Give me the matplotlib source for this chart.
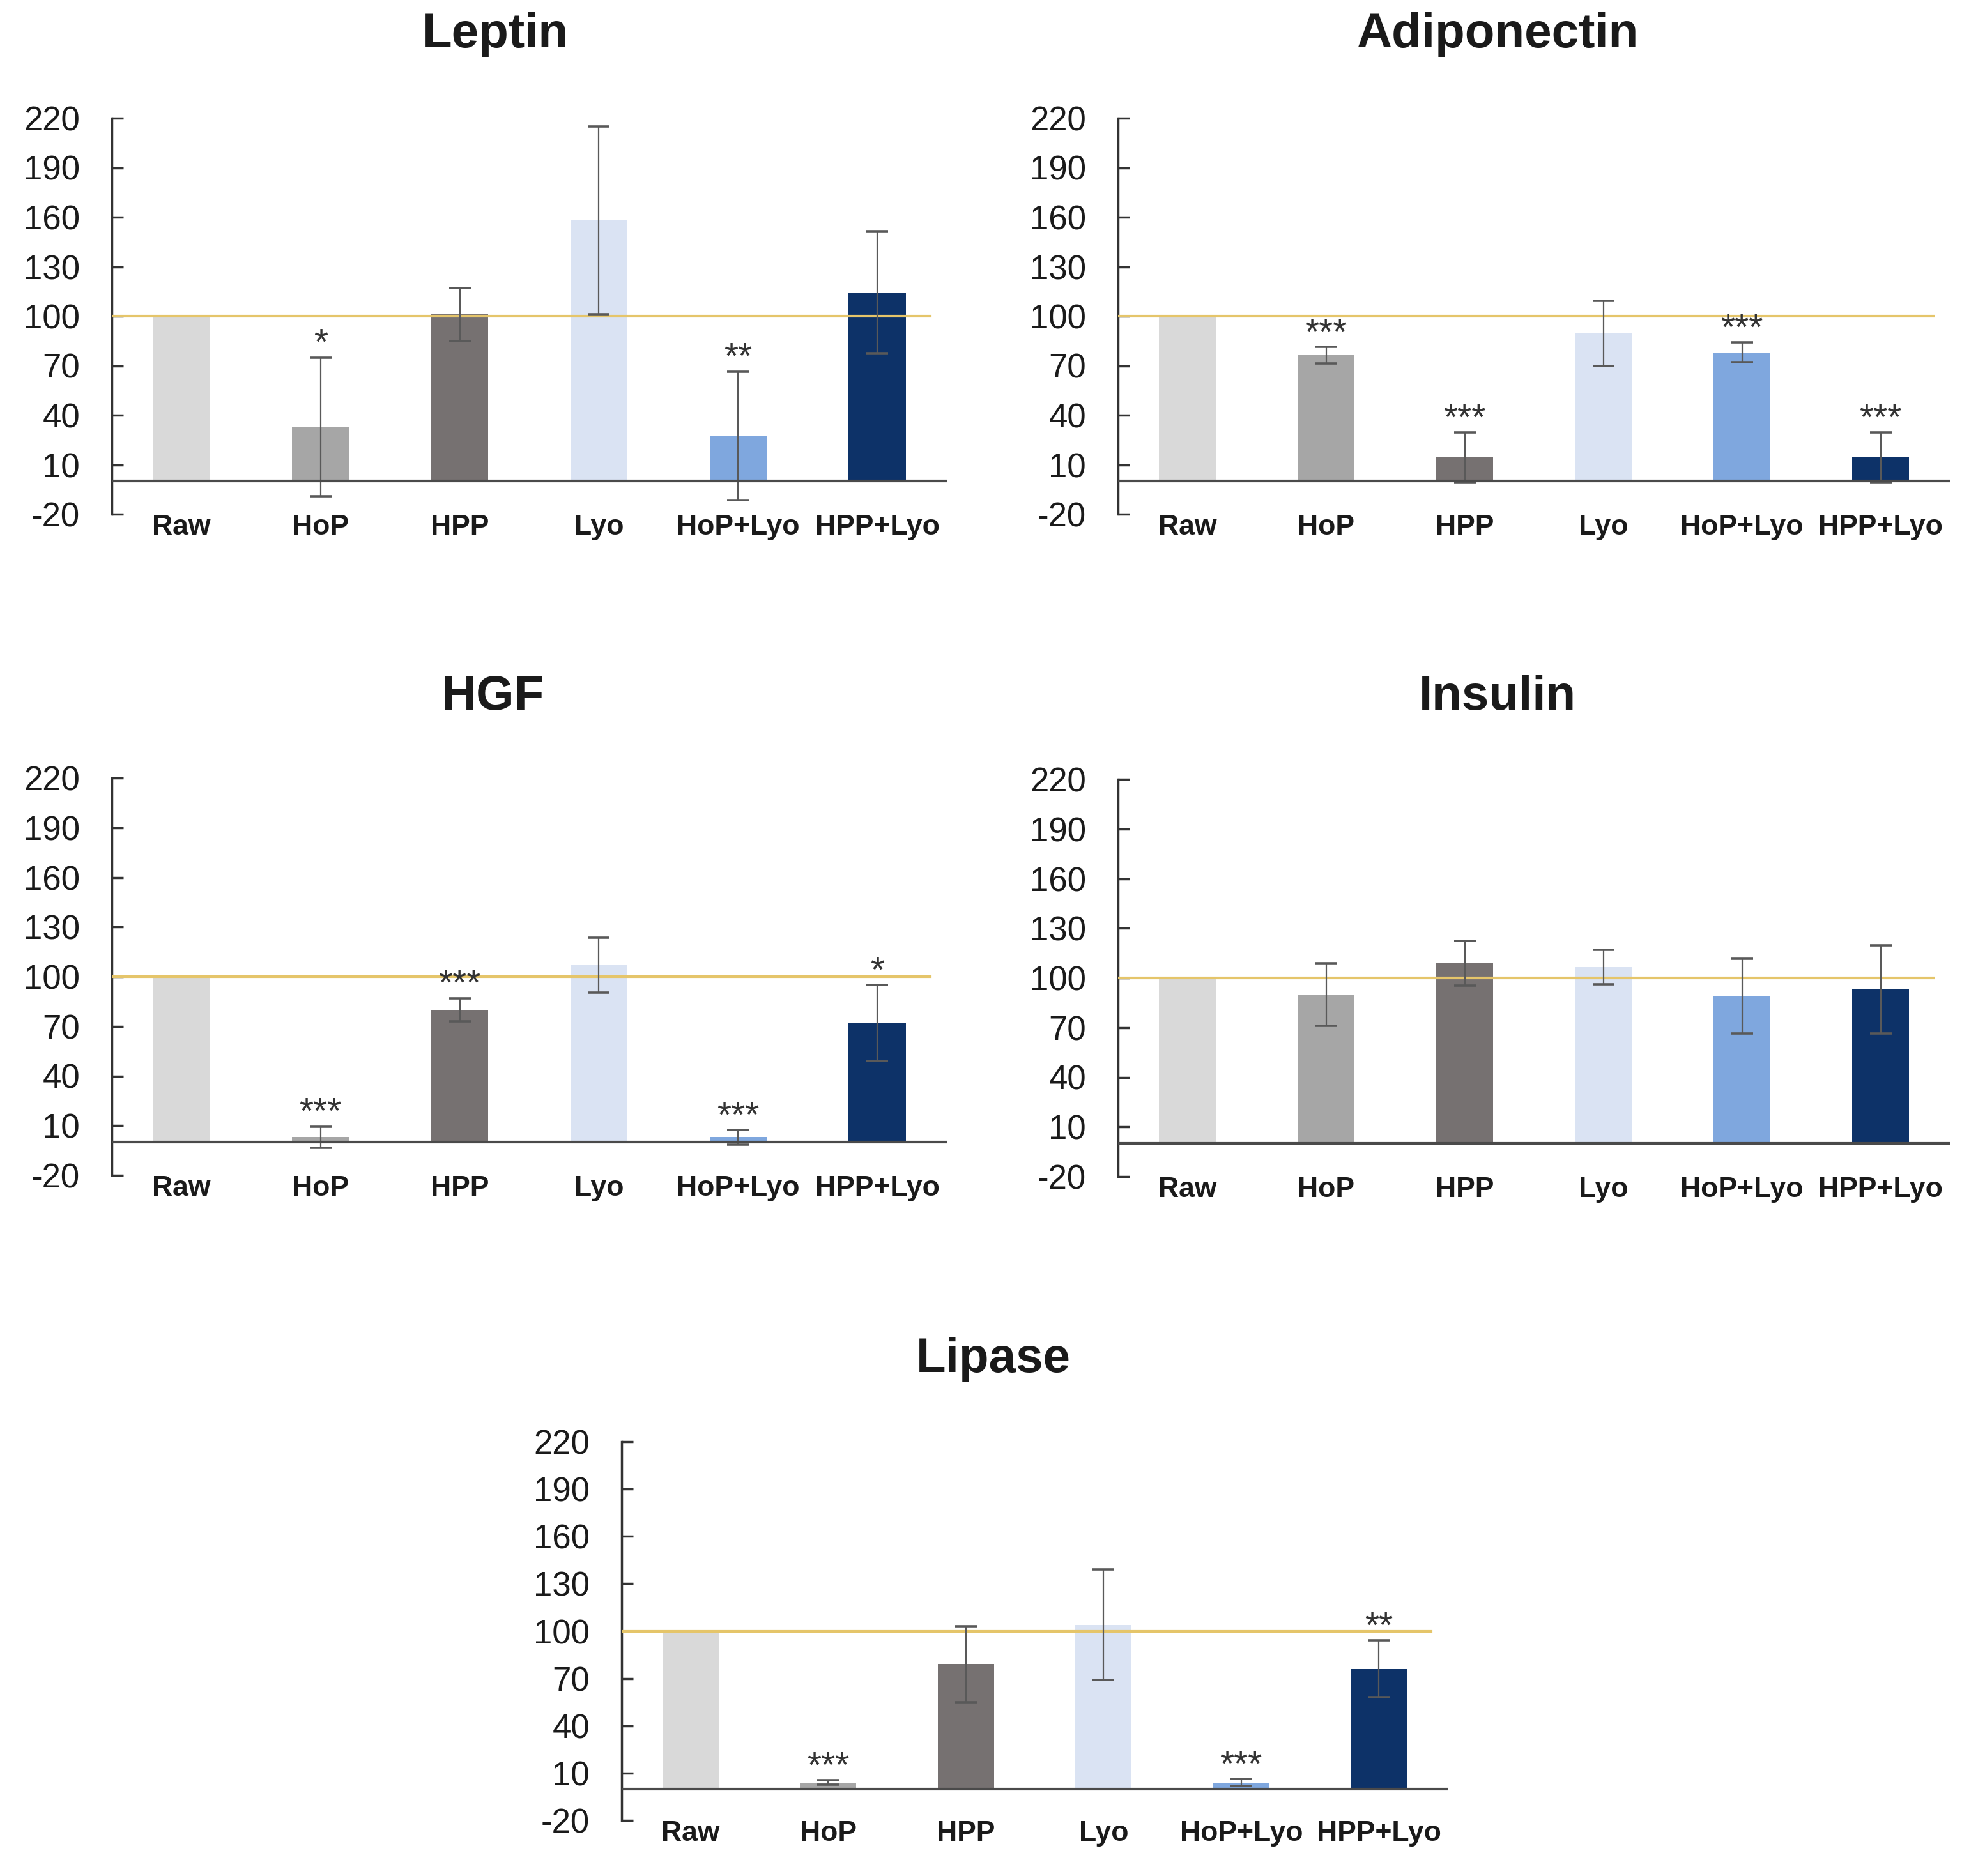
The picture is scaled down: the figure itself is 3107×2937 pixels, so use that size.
import numpy as np
import matplotlib
matplotlib.use("Agg")
import matplotlib.pyplot as plt

plt.rcParams.update(
    {
        "font.family": ["Liberation Sans", "DejaVu Sans"],
        "figure.facecolor": "white",
        "axes.unicode_minus": False,
    }
)

groups = ["Raw", "HoP", "HPP", "Lyo", "HoP+Lyo", "HPP+Lyo"]
bar_colors = ["#d9d9d9", "#a6a6a6", "#767171", "#dae3f3", "#7fa7de", "#0d3268"]
yticks = [-20, 10, 40, 70, 100, 130, 160, 190, 220]

# means (% of raw) and error (SD) for each panel
leptin_mean = [100, 33, 101, 158, 27.5, 114.5]
leptin_err = [0, 42, 16, 57, 39, 37]
leptin_sig = ["", "*", "", "", "**", ""]

adipo_mean = [100, 76.5, 14.5, 89.5, 78, 14.5]
adipo_err = [0, 5, 15, 19.7, 6, 15]
adipo_sig = ["", "***", "***", "", "***", "***"]

hgf_mean = [100, 3, 80, 107, 3, 72]
hgf_err = [0, 6.5, 7, 16.5, 4.5, 23]
hgf_sig = ["", "***", "***", "", "***", "*"]

insulin_mean = [100, 90, 109, 106.5, 89, 93]
insulin_err = [0, 19, 13.5, 10.3, 22.5, 26.7]
insulin_sig = ["", "", "", "", "", ""]

lipase_mean = [100, 4, 79, 104, 4, 76]
lipase_err = [0, 1.5, 24, 35, 2.3, 18]
lipase_sig = ["", "***", "", "", "***", "**"]

W, H = 3107, 2937
fig = plt.figure(figsize=(W / 100, H / 100), dpi=100)


def px_axes(left, right, top, bottom):
    return fig.add_axes([left / W, 1 - bottom / H, (right - left) / W, (bottom - top) / H])


def panel(ax, title, tx, ty, means, errs, sigs):
    x = np.arange(len(groups))
    ax.bar(x, means, width=0.41, color=bar_colors, zorder=2)
    idx = [i for i, e in enumerate(errs) if e > 0]
    ax.errorbar(
        x[idx],
        np.array(means)[idx],
        yerr=np.array(errs)[idx],
        fmt="none",
        ecolor="#595959",
        elinewidth=1.6,
        capsize=12,
        capthick=2.6,
        zorder=4,
    )
    ax.axhline(100, xmin=0, xmax=0.98, color="#e5c56a", lw=3, zorder=3)
    ax.axhline(0, color="#4a4a4a", lw=3, zorder=5)
    for i, s in enumerate(sigs):
        if s:
            ax.annotate(
                s,
                (x[i], means[i] + errs[i]),
                xytext=(0, 14),
                textcoords="offset points",
                ha="center",
                va="center",
                fontsize=41,
                color="#333333",
            )
    for i, g in enumerate(groups):
        ax.annotate(g, (i, -20), xytext=(0, -15), textcoords="offset points",
                    ha="center", va="center", fontsize=32,
                    fontweight="bold", color="#1a1a1a", annotation_clip=False)

    ax.set_xlim(-0.5, 5.5)
    ax.set_ylim(-20, 220)
    ax.set_yticks(yticks)
    ax.set_xticks([])
    for sp in ["top", "right", "bottom"]:
        ax.spines[sp].set_visible(False)
    ax.spines["left"].set_color("#333333")
    ax.spines["left"].set_linewidth(2.5)
    ax.tick_params(axis="y", direction="in", length=13, width=2.5,
                   color="#333333", labelsize=38, pad=36, labelcolor="#1a1a1a")
    fig.text(tx / W, 1 - ty / H, title, ha="center", va="center",
             fontsize=55, fontweight="bold", color="#1a1a1a")


panel(px_axes(175, 1482, 185, 805), "Leptin", 775, 55, leptin_mean, leptin_err, leptin_sig)
panel(px_axes(1750, 3052, 185, 805), "Adiponectin", 2344, 55, adipo_mean, adipo_err, adipo_sig)
panel(px_axes(175, 1482, 1218, 1840), "HGF", 771, 1091, hgf_mean, hgf_err, hgf_sig)
panel(px_axes(1750, 3052, 1220, 1842), "Insulin", 2344, 1092, insulin_mean, insulin_err, insulin_sig)
panel(px_axes(973, 2266, 2257, 2850), "Lipase", 1555, 2128, lipase_mean, lipase_err, lipase_sig)

plt.savefig("out.png", dpi=100)
